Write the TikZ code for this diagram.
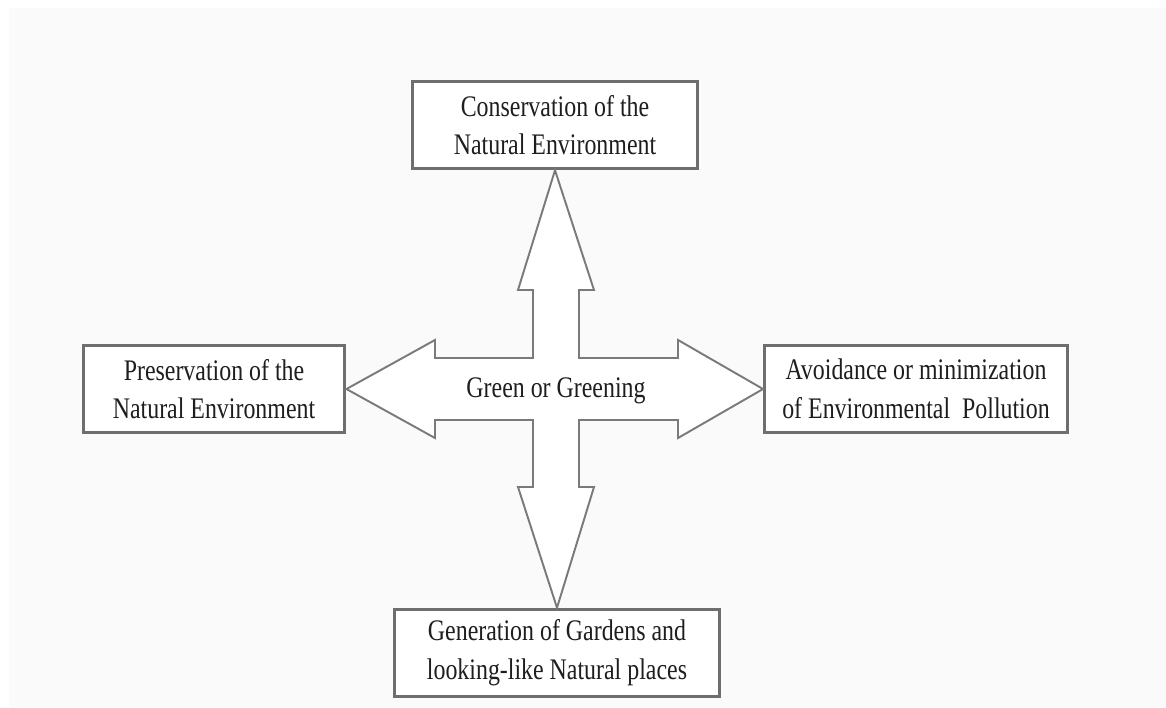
\documentclass[tikz,border=0pt]{standalone}
\usepackage{fontspec}
\setmainfont{Liberation Serif}[FakeStretch=0.8]
\usetikzlibrary{positioning,calc}
\definecolor{boxline}{HTML}{6E6E6E}
\definecolor{crossline}{HTML}{7A7A7A}
\definecolor{paper}{HTML}{FAFAFA}
\definecolor{inktext}{HTML}{1E1E1E}

\begin{document}
\begin{tikzpicture}[x=0.02cm, y=-0.02cm,
  goalbox/.style={draw=boxline, line width=1.7pt, fill=white, minimum height=1.75cm, inner sep=0pt, align=center, text=inktext, font=\fontsize{17}{22}\selectfont},
  crossarrow/.style={draw=crossline, line width=1.1pt, fill=white, line join=miter},
  hubtext/.style={inner sep=0pt, anchor=base, text=inktext, font=\fontsize{17}{22}\selectfont}]
\useasboundingbox (0,0) rectangle (1166,707);
\fill[paper] (9,8) rectangle (1166,707);
\coordinate (hub) at (556,389);
\node[goalbox, minimum width=5.72cm] (cons) at (555,125) {Conservation of the\\Natural Environment};
\node[goalbox, minimum width=5.24cm] (pres) at (214,389) {Preservation of the\\Natural Environment};
\node[goalbox, minimum width=6.06cm] (avoid) at (916,389) {Avoidance or minimization\\of Environmental\ \ Pollution};
\node[goalbox, minimum width=6.5cm] (garden) at (557,653) {Generation of Gardens and\\looking-like Natural places};
% four-headed arrow round the hub
\draw[crossarrow] (cons.south) -- ($(hub)+(38,-99)$) -- ($(hub)+(23,-99)$) -- ($(hub)+(23,-31)$)
  -- ($(hub)+(122,-31)$) -- ($(hub)+(122,-49)$) -- (avoid.west) -- ($(hub)+(122,49)$) -- ($(hub)+(122,31)$)
  -- ($(hub)+(23,31)$) -- ($(hub)+(23,98)$) -- ($(hub)+(38,98)$) -- (garden.north) -- ($(hub)+(-38,98)$)
  -- ($(hub)+(-23,98)$) -- ($(hub)+(-23,31)$) -- ($(hub)+(-121,31)$) -- ($(hub)+(-121,49)$) -- (pres.east)
  -- ($(hub)+(-121,-49)$) -- ($(hub)+(-121,-31)$) -- ($(hub)+(-23,-31)$) -- ($(hub)+(-23,-99)$)
  -- ($(hub)+(-38,-99)$) -- cycle;
\node[hubtext] (green) at ($(hub)+(0,8)$) {Green or Greening};
\end{tikzpicture}
\end{document}
